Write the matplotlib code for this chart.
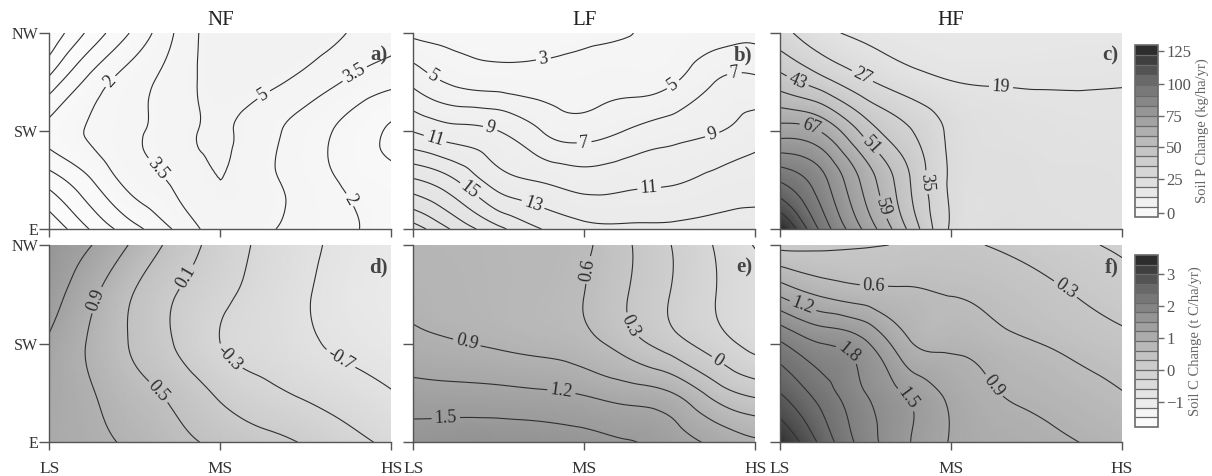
import numpy as np
import matplotlib
matplotlib.use("Agg")
import matplotlib.pyplot as plt
import matplotlib.tri as mtri
from matplotlib.colors import LinearSegmentedColormap, Normalize
from matplotlib.cm import ScalarMappable

plt.rcParams['font.family'] = ['Liberation Serif', 'DejaVu Serif']
plt.rcParams['contour.negative_linestyle'] = 'solid'

# ---------------- data ----------------
x_labels = ['LS', 'MS', 'HS']
y_labels = ['E', 'SW', 'NW']
col_titles = ['NF', 'LF', 'HF']
panel_tags = ['a)', 'b)', 'c)', 'd)', 'e)', 'f)']

# sampling positions of the read-off grids (rows listed from NW (top) to E (bottom))
grid_x = [0.0, 0.25, 0.5, 0.75, 1.0, 1.25, 1.5, 1.75, 2.0]
grid_y = [2.0, 1.5, 1.0, 0.5, 0.0]

# Soil P change (kg/ha/yr)
soil_p_nf = [
    [-5.3, -1.95, 0.85, 3.75, 5.8, 6.1, 5.8, 4.95, 4.0],
    [-2.0, 1.1, 2.9, 4.3, 5.6, 5.4, 4.5, 3.3, 2.4],
    [0.9, 2.2, 3.3, 4.4, 5.2, 4.1, 2.8, 1.5, 0.3],
    [-1.8, 0.5, 2.7, 3.85, 5.0, 4.0, 2.85, 1.7, 1.0],
    [-5.3, -2.3, 0.05, 2.3, 4.3, 3.8, 3.0, 2.2, 1.5],
]
soil_p_lf = [
    [2.5, 2.4, 2.3, 2.4, 2.6, 2.95, 3.5, 4.0, 4.6],
    [6.5, 4.6, 4.1, 3.9, 3.95, 4.3, 4.7, 6.9, 7.5],
    [10.9, 9.7, 9.0, 7.0, 6.1, 7.1, 8.1, 8.8, 10.0],
    [17.2, 15.0, 11.9, 10.8, 10.0, 10.4, 10.7, 11.5, 12.1],
    [24.0, 20.5, 17.5, 15.0, 13.6, 13.4, 13.4, 13.6, 13.8],
]
soil_p_hf = [
    [30.0, 21.0, 17.5, 16.0, 15.5, 15.5, 15.8, 16.0, 16.2],
    [47.0, 38.0, 28.5, 22.5, 19.2, 18.5, 18.4, 18.5, 18.7],
    [71.0, 66.0, 48.0, 36.0, 25.5, 22.0, 21.0, 20.5, 20.3],
    [98.0, 85.0, 64.0, 44.0, 26.0, 23.5, 22.5, 22.0, 21.5],
    [127.0, 96.0, 73.0, 50.0, 26.0, 24.0, 23.3, 22.8, 22.5],
]
# Soil C change (t C/ha/yr)
soil_c_nf = [
    [1.6, 1.3, 0.82, 0.34, -0.07, -0.38, -0.62, -0.8, -0.9],
    [1.48, 0.98, 0.48, 0.09, -0.21, -0.45, -0.67, -0.85, -0.95],
    [1.25, 0.84, 0.44, 0.06, -0.3, -0.46, -0.64, -0.78, -0.88],
    [1.15, 0.92, 0.64, 0.38, 0.03, -0.2, -0.36, -0.52, -0.68],
    [1.1, 1.0, 0.82, 0.6, 0.41, 0.24, 0.06, -0.18, -0.38],
]
soil_c_lf = [
    [0.8, 0.78, 0.76, 0.72, 0.65, 0.34, 0.01, -0.3, -0.62],
    [0.85, 0.8, 0.76, 0.71, 0.6, 0.31, 0.0, -0.28, -0.5],
    [0.98, 0.92, 0.86, 0.8, 0.7, 0.45, 0.15, -0.14, -0.4],
    [1.32, 1.3, 1.28, 1.24, 1.17, 1.05, 0.92, 0.5, 0.22],
    [1.62, 1.66, 1.66, 1.64, 1.6, 1.52, 1.36, 1.15, 0.95],
]
soil_c_hf = [
    [0.2, 0.24, 0.28, 0.32, 0.35, 0.28, 0.17, 0.05, -0.05],
    [1.15, 0.85, 0.72, 0.66, 0.59, 0.52, 0.41, 0.28, 0.15],
    [2.14, 1.8, 1.55, 0.95, 0.82, 0.72, 0.61, 0.5, 0.4],
    [2.7, 2.25, 1.8, 1.45, 1.12, 0.92, 0.82, 0.72, 0.61],
    [3.35, 2.6, 1.95, 1.52, 1.18, 1.05, 0.98, 0.9, 0.82],
]

# contour levels of each panel
levels_p_nf = [-5.5, -4, -2.5, -1, 0.5, 2, 3.5, 5, 6.5]
levels_p_lf = [1, 3, 5, 7, 9, 11, 13, 15, 17, 19, 21, 23, 25]
levels_p_hf = [3, 11, 19, 27, 35, 43, 51, 59, 67, 75, 83, 91, 99, 107, 115, 123]
levels_c_nf = [-1.5, -1.1, -0.7, -0.3, 0.1, 0.5, 0.9, 1.3, 1.7]
levels_c_lf = [-0.9, -0.6, -0.3, 0.0, 0.3, 0.6, 0.9, 1.2, 1.5, 1.8]
levels_c_hf = [-0.3, 0.0, 0.3, 0.6, 0.9, 1.2, 1.5, 1.8, 2.1, 2.4, 2.7, 3.0, 3.3]

# colour-bar scales
p_range = [-2.3, 128.3]
p_bounds = [-2.3, 3, 11, 19, 27, 35, 43, 51, 59, 67, 75, 83, 91, 99, 107, 115, 123, 128.3]
p_ticks = [0, 25, 50, 75, 100, 125]
c_range = [-1.57, 3.51]
c_bounds = [-1.57, -1.5, -1.2, -0.9, -0.6, -0.3, 0.0, 0.3, 0.6, 0.9, 1.2, 1.5, 1.8,
            2.1, 2.4, 2.7, 3.0, 3.3, 3.51]
c_ticks = [-1, 0, 1, 2, 3]

# where the inline labels sit (data coordinates)
labels_p_nf = [(0.33, 1.55), (0.63, 0.61), (1.26, 1.35), (1.79, 1.57), (1.75, 0.29)]
labels_p_lf = [(0.76, 1.75), (0.12, 1.56), (1.53, 1.45), (1.0, 0.86), (1.88, 1.55),
               (0.45, 1.03), (1.74, 1.01), (0.12, 0.88), (1.38, 0.40), (0.34, 0.42),
               (0.70, 0.25)]
labels_p_hf = [(1.29, 1.38), (0.49, 1.59), (0.11, 1.54), (0.18, 1.03), (0.55, 0.88),
               (0.88, 0.48), (0.62, 0.23)]
labels_c_nf = [(0.28, 1.44), (0.63, 0.5), (0.77, 1.71), (1.06, 0.87), (1.68, 0.77)]
labels_c_lf = [(1.01, 1.75), (1.26, 1.17), (1.76, 0.77), (0.31, 0.99), (0.87, 0.56),
               (0.19, 0.24)]
labels_c_hf = [(0.55, 1.66), (1.66, 1.53), (0.14, 1.41), (0.38, 0.85), (0.74, 0.43),
               (1.27, 0.60)]

# ---------------- figure ----------------
fig = plt.figure(figsize=(12.12, 4.76), dpi=100)
cmap = LinearSegmentedColormap.from_list(
    'soil_grey', [(0.0, '#fbfbfb'), (0.2, '#dedede'), (0.4, '#c2c2c2'),
                  (0.6, '#9c9c9c'), (0.8, '#6c6c6c'), (1.0, '#262626')])
p_norm = Normalize(*p_range)
c_norm = Normalize(*c_range)

lefts = [49.3 / 1212, 413.3 / 1212, 780.0 / 1212]
width = 342.0 / 1212
rows = [((476 - 229) / 476, 196 / 476), ((476 - 442.3) / 476, 197.3 / 476)]

panels = [
    (soil_p_nf, levels_p_nf, labels_p_nf, p_norm),
    (soil_p_lf, levels_p_lf, labels_p_lf, p_norm),
    (soil_p_hf, levels_p_hf, labels_p_hf, p_norm),
    (soil_c_nf, levels_c_nf, labels_c_nf, c_norm),
    (soil_c_lf, levels_c_lf, labels_c_lf, c_norm),
    (soil_c_hf, levels_c_hf, labels_c_hf, c_norm),
]

spine_col = '#555555'
text_col = '#333333'

gx, gy = np.meshgrid(grid_x, grid_y)
base_tri = mtri.Triangulation(gx.ravel(), gy.ravel())
refiner = mtri.UniformTriRefiner(base_tri)


def fmt(v):
    return '%g' % round(v, 2)


for i, (vals, levs, lab_pos, norm) in enumerate(panels):
    r, c = divmod(i, 3)
    bottom, height = rows[r]
    ax = fig.add_axes([lefts[c], bottom, width, height])
    z = np.array(vals, dtype=float).ravel()
    interp = mtri.CubicTriInterpolator(base_tri, z, kind='min_E')
    tri_f, z_f = refiner.refine_field(z, triinterpolator=interp, subdiv=4)
    ax.tripcolor(tri_f, z_f, shading='gouraud', cmap=cmap, norm=norm,
                 rasterized=True, zorder=0)
    cs = ax.tricontour(tri_f, z_f, levels=levs, colors='#2f2f2f',
                       linewidths=0.8, linestyles='solid', zorder=2)
    texts = ax.clabel(cs, manual=lab_pos, inline=True, fmt=fmt, fontsize=13,
                      inline_spacing=3)
    for t in texts:
        t.set_color('#2a2a2a')

    ax.set_xlim(0, 2)
    ax.set_ylim(0, 2)
    for s in ['top', 'right']:
        ax.spines[s].set_visible(False)
    for s in ['left', 'bottom']:
        ax.spines[s].set_color(spine_col)
        ax.spines[s].set_linewidth(1.0)
        ax.spines[s].set_zorder(5)
    ax.set_xticks([0, 1, 2])
    ax.set_yticks([0, 1, 2])
    ax.tick_params(direction='out', width=1, color=spine_col, labelcolor=text_col)
    ax.tick_params(axis='x', length=5.5)
    ax.tick_params(axis='y', length=7)
    if r == 1:
        ax.set_xticklabels(x_labels, fontsize=12.5)
        ax.tick_params(axis='x', pad=8)
    else:
        ax.set_xticklabels([])
        ax.set_title(col_titles[c], fontsize=15, color='#222222', pad=6)
    if c == 0:
        ax.set_yticklabels(y_labels, fontsize=11.5)
        ax.tick_params(axis='y', pad=1)
    else:
        ax.set_yticklabels([])
    ax.text(0.99, 0.935, panel_tags[i], transform=ax.transAxes, ha='right',
            va='top', fontsize=15, fontweight='bold', color='#444444', zorder=6)

# colour bars
cbar_specs = [
    ((476 - 217) / 476, p_norm, p_bounds, p_ticks, 'Soil P Change (kg/ha/yr)'),
    ((476 - 427) / 476, c_norm, c_bounds, c_ticks, 'Soil C Change (t C/ha/yr)'),
]
for bottom, norm, bounds, ticks, label in cbar_specs:
    cax = fig.add_axes([1135 / 1212, bottom, 23 / 1212, 172 / 476])
    sm = ScalarMappable(norm=norm, cmap=cmap)
    cb = fig.colorbar(sm, cax=cax, boundaries=bounds, drawedges=True, ticks=ticks)
    cb.dividers.set_color('#6a6a6a')
    cb.dividers.set_linewidth(0.9)
    cb.outline.set_edgecolor('#6a6a6a')
    cb.outline.set_linewidth(1.2)
    cax.tick_params(length=4, width=1, color='#6a6a6a', labelcolor='#555555',
                    labelsize=12, pad=2)
    cb.set_label(label, fontsize=10.5, color='#666666', labelpad=3)

fig.savefig('out.png', dpi=100)
